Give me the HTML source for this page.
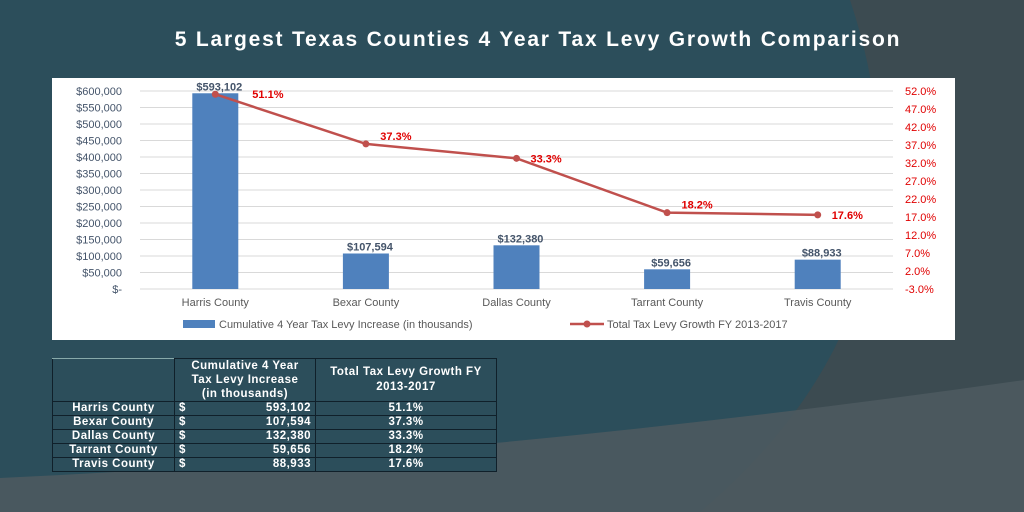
<!DOCTYPE html>
<html><head><meta charset="utf-8"><style>
html,body{margin:0;padding:0;width:1024px;height:512px;overflow:hidden;background:#2c4e5b;font-family:"Liberation Sans",sans-serif}
#bg{position:absolute;left:0;top:0}
#title{position:absolute;left:0;width:1076px;top:28px;text-align:center;color:#fff;font-weight:bold;font-size:21px;letter-spacing:1.8px}
#panel{position:absolute;left:52px;top:78px;width:903px;height:262px;background:#fff}
table{position:absolute;left:52px;top:358px;border-collapse:collapse;color:#fff;font-weight:bold;font-size:11.5px;letter-spacing:0.5px;background:#2c4e5b}
td{border:1.5px solid #10202a;padding:0 4px;height:13px;line-height:13px}
</style></head><body>
<svg id="bg" width="1024" height="512">
<path d="M850 0 L1024 0 L1024 512 L700 512 Q950 300 850 0Z" fill="#3c4b51"/>
<path d="M0 478 Q500 455 1024 380 L1024 512 L0 512Z" fill="#4d5a5f" opacity="0.9"/>
</svg>
<div id="title">5 Largest Texas Counties 4 Year Tax Levy Growth Comparison</div>
<div id="panel"></div>
<svg id="chart" width="1024" height="512" style="position:absolute;left:0;top:0"></svg>
<table>
<tr style="height:42px"><td style="width:113px;border-top-color:#8aa"></td><td style="width:132px;text-align:center;line-height:14px">Cumulative 4 Year<br>Tax Levy Increase<br>(in thousands)</td><td style="width:172px;text-align:center;line-height:15px">Total Tax Levy Growth FY<br>2013-2017</td></tr>
<tr><td style="text-align:center">Harris County</td><td>$<span style="float:right">593,102</span></td><td style="text-align:center">51.1%</td></tr>
<tr><td style="text-align:center">Bexar County</td><td>$<span style="float:right">107,594</span></td><td style="text-align:center">37.3%</td></tr>
<tr><td style="text-align:center">Dallas County</td><td>$<span style="float:right">132,380</span></td><td style="text-align:center">33.3%</td></tr>
<tr><td style="text-align:center">Tarrant County</td><td>$<span style="float:right">59,656</span></td><td style="text-align:center">18.2%</td></tr>
<tr><td style="text-align:center">Travis County</td><td>$<span style="float:right">88,933</span></td><td style="text-align:center">17.6%</td></tr>
</table>
<script>
const categories=["Harris County","Bexar County","Dallas County","Tarrant County","Travis County"];
const levyValues=[593102,107594,132380,59656,88933];
const growthValues=[51.1,37.3,33.3,18.2,17.6];
const leftTicks=[0,50000,100000,150000,200000,250000,300000,350000,400000,450000,500000,550000,600000];
const rightTicks=[-3,2,7,12,17,22,27,32,37,42,47,52];
const NS="http://www.w3.org/2000/svg";
const svg=document.getElementById('chart');
const yTop=91,yBot=289,x0=140,x1=893;
const yL=v=>yBot-v/600000*(yBot-yTop);
const yR=p=>yBot-(p+3)/55*(yBot-yTop);
const band=(x1-x0)/categories.length;
const xC=i=>x0+band*(i+0.5);
function mk(t,a,txt){const e=document.createElementNS(NS,t);for(const k in a)e.setAttribute(k,a[k]);if(txt!==undefined)e.textContent=txt;svg.appendChild(e);return e;}
const fnt='"Liberation Sans",sans-serif';
leftTicks.forEach(v=>{
 const g=mk('line',{x1:x0,x2:x1,y1:yL(v),y2:yL(v),stroke:'#d9d9d9','stroke-width':1});
 
 
 const t=mk('text',{x:122,y:yL(v)+4,'text-anchor':'end','font-size':11,fill:'#44546a','font-family':fnt},v===0?'$-':'$'+v.toLocaleString('en-US'));
 
 
});
rightTicks.forEach(p=>{
 const t=mk('text',{x:905,y:yR(p)+4,'font-size':11,fill:'#e00000','font-family':fnt},p.toFixed(1)+'%');
 
 
});
categories.forEach((c,i)=>{
 const b=mk('rect',{x:xC(i)-23,y:yL(levyValues[i]),width:46,height:yBot-yL(levyValues[i]),fill:'#4f81bd'});
 
 
 const l=mk('text',{x:xC(i)+4,y:yL(levyValues[i])-3,'text-anchor':'middle','font-size':11,'font-weight':'bold',fill:'#44546a','font-family':fnt},'$'+levyValues[i].toLocaleString('en-US'));
 
 
 const t=mk('text',{x:xC(i),y:306,'text-anchor':'middle','font-size':11,fill:'#595959','font-family':fnt},c);
 
 
});
const pts=growthValues.map((p,i)=>xC(i)+','+yR(p)).join(' ');
const pl=mk('polyline',{points:pts,fill:'none',stroke:'#c0504d','stroke-width':2.5});


const lblDx=[37,30,14,30,14];
const lblDy=[4,-4,4,-4,4];
growthValues.forEach((p,i)=>{
 const c=mk('circle',{cx:xC(i),cy:yR(p),r:3.5,fill:'#c0504d'});
 
 
 const t=mk('text',{x:xC(i)+lblDx[i],y:yR(p)+lblDy[i],'text-anchor':(i==1||i==3)?'middle':'start','font-size':11,'font-weight':'bold',fill:'#e00000','font-family':fnt},p.toFixed(1)+'%');
 
 
});
const lg1=mk('rect',{x:183,y:320,width:32,height:8,fill:'#4f81bd'});


const lt1=mk('text',{x:219,y:328,'font-size':11,fill:'#595959','font-family':fnt},'Cumulative 4 Year Tax Levy Increase (in thousands)');


const lg2=mk('line',{x1:570,x2:604,y1:324,y2:324,stroke:'#c0504d','stroke-width':2.5});


const lg3=mk('circle',{cx:587,cy:324,r:3.5,fill:'#c0504d'});


const lt2=mk('text',{x:607,y:328,'font-size':11,fill:'#595959','font-family':fnt},'Total Tax Levy Growth FY 2013-2017');


</script>
</body></html>
